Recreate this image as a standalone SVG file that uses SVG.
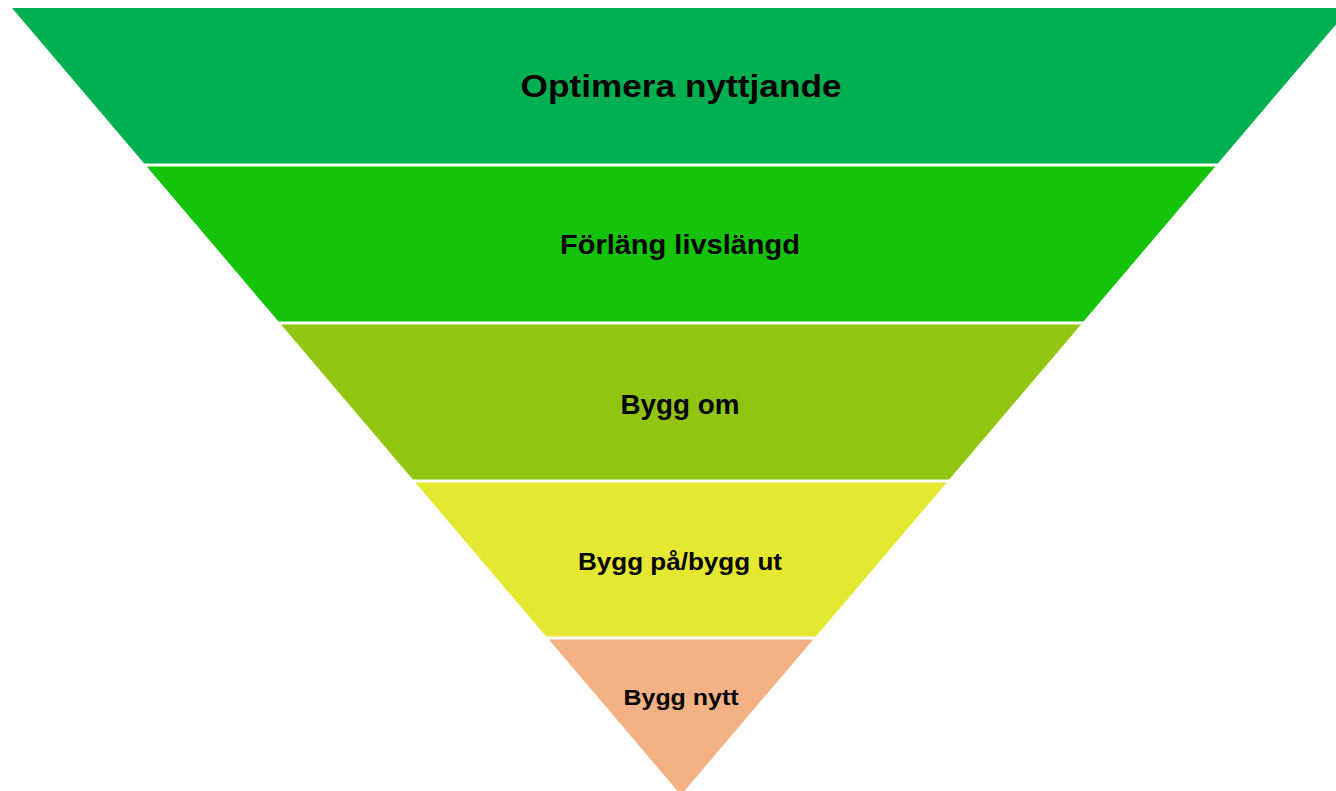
<svg xmlns="http://www.w3.org/2000/svg" width="1336" height="791" viewBox="0 0 1336 791">
<style>
.lbl{font-family:"Liberation Sans",Arial,sans-serif;font-weight:bold;fill:#000;text-anchor:middle}
</style>
<rect width="1336" height="791" fill="#fff"/>
<g id="band1">
<polygon points="12,8 1350,8 1217.8,163.5 144.2,163.5" fill="#00B050"/>
<text class="lbl" x="681" y="97" font-size="32" textLength="321" lengthAdjust="spacingAndGlyphs">Optimera nyttjande</text>
</g>
<g id="band2">
<polygon points="146.7,166.5 1215.3,166.5 1083.5,321.5 278.5,321.5" fill="#14C30A"/>
<text class="lbl" x="680" y="253.5" font-size="28.5" textLength="240" lengthAdjust="spacingAndGlyphs">Förläng livslängd</text>
</g>
<g id="band3">
<polygon points="281,324.5 1081,324.5 949.2,479.5 412.8,479.5" fill="#92C412"/>
<text class="lbl" x="680" y="413.5" font-size="28.5" textLength="119" lengthAdjust="spacingAndGlyphs">Bygg om</text>
</g>
<g id="band4">
<polygon points="415.3,482.5 946.7,482.5 815.8,636.5 546.2,636.5" fill="#E4E830"/>
<text class="lbl" x="680" y="569.5" font-size="23" textLength="204" lengthAdjust="spacingAndGlyphs">Bygg på/bygg ut</text>
</g>
<g id="band5">
<polygon points="548.8,639.5 813.2,639.5 681,795" fill="#F4B183"/>
<text class="lbl" x="681" y="704.5" font-size="22.5" textLength="115" lengthAdjust="spacingAndGlyphs">Bygg nytt</text>
</g>
<g id="connectors"/>
</svg>
